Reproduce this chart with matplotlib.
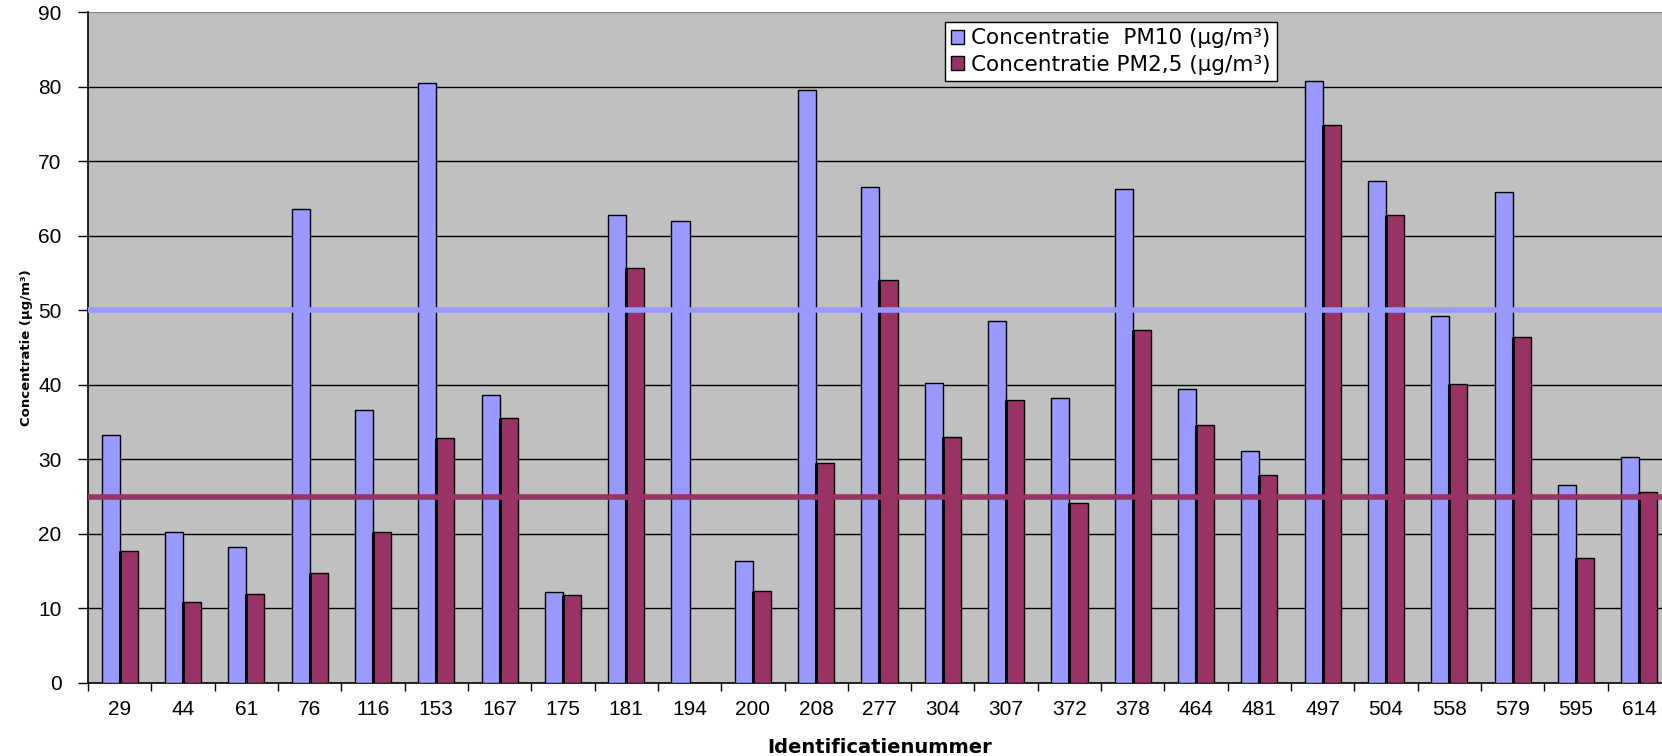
import numpy as np
import matplotlib
matplotlib.use("Agg")
import matplotlib.pyplot as plt
from matplotlib.patches import Patch

plt.rcParams['font.family'] = ['Liberation Sans', 'DejaVu Sans']

# Data
ids = ["29", "44", "61", "76", "116", "153", "167", "175", "181", "194",
       "200", "208", "277", "304", "307", "372", "378", "464", "481", "497",
       "504", "558", "579", "595", "614"]
pm10 = [33.2, 20.3, 18.3, 63.6, 36.6, 80.5, 38.6, 12.2, 62.8, 62.0,
        16.3, 79.5, 66.5, 40.3, 48.5, 38.2, 66.3, 39.5, 31.1, 80.7,
        67.3, 49.2, 65.9, 26.6, 30.3]
pm25 = [17.7, 10.8, 12.0, 14.7, 20.2, 32.8, 35.6, 11.8, 55.7, 0.0,
        12.4, 29.5, 54.1, 33.0, 38.0, 24.1, 47.4, 34.6, 27.9, 74.8,
        62.8, 40.1, 46.4, 16.7, 25.6]
limit_pm10 = 50
limit_pm25 = 25

c_pm10 = "#9999FF"
c_pm25 = "#993366"
c_bg = "#C0C0C0"

W, H = 1662, 756
fig = plt.figure(figsize=(W / 100, H / 100), dpi=100)
fig.patch.set_facecolor("white")

# plot area runs past the right edge of the picture, as in the reference
left, right, top, bottom = 88, 1671, 12, 683
ax = fig.add_axes([left / W, (H - bottom) / H, (right - left) / W, (bottom - top) / H])
ax.set_facecolor(c_bg)

x = np.arange(len(ids))
bw = 0.285
ax.bar(x - bw / 2, pm10, bw, color=c_pm10, edgecolor="black", linewidth=1.0, zorder=3)
ax.bar(x + bw / 2, pm25, bw, color=c_pm25, edgecolor="black", linewidth=1.0, zorder=3)
# darker shadow edge between the two bars of a pair
for xi, v in zip(x, pm25):
    if v > 0:
        ax.plot([xi, xi], [0, v], color="black", linewidth=2.2, zorder=3.5,
                solid_capstyle="butt")

ax.axhline(limit_pm10, color=c_pm10, linewidth=4.0, zorder=4)
ax.axhline(limit_pm25, color=c_pm25, linewidth=4.0, zorder=4)

ax.set_xlim(-0.5, len(ids) - 0.5)
ax.set_ylim(0, 90)
ax.set_yticks(range(0, 91, 10))
for yv in range(10, 81, 10):
    ax.axhline(yv, color="black", linewidth=1.0, zorder=1)
ax.axhline(90, color="#808080", linewidth=1.5, zorder=1)

# tick marks at category boundaries, labels in the middle
ax.set_xticks(np.arange(-0.5, len(ids), 1.0))
ax.set_xticklabels([])
ax.set_xticks(x, minor=True)
ax.set_xticklabels(ids, minor=True)
ax.tick_params(axis="x", which="minor", length=0, pad=12, labelsize=15)
ax.tick_params(axis="x", which="major", length=6, width=1, direction="out")
ax.tick_params(axis="y", length=7, width=1, direction="out", labelsize=15, pad=12)

for s in ["top", "right"]:
    ax.spines[s].set_visible(False)
ax.spines["left"].set_linewidth(1.2)
ax.spines["bottom"].set_linewidth(1.2)

ax.set_xlabel("Identificatienummer", fontsize=14, fontweight="bold",
              family="DejaVu Sans", labelpad=14)
ax.set_ylabel("Concentratie (µg/m³)", fontsize=9.5, fontweight="bold",
              family="DejaVu Sans", labelpad=4)

handles = [Patch(facecolor=c_pm10, edgecolor="black", label="Concentratie  PM10 (µg/m³)"),
           Patch(facecolor=c_pm25, edgecolor="black", label="Concentratie PM2,5 (µg/m³)")]
leg = fig.legend(handles=handles, loc="upper left",
                 bbox_to_anchor=(945 / W, 1 - 22 / H),
                 prop={"family": "DejaVu Sans", "size": 15.5},
                 frameon=True, fancybox=False, framealpha=1, edgecolor="black",
                 handlelength=0.6, handleheight=0.6, handletextpad=0.3,
                 borderpad=0.3, labelspacing=0.3, borderaxespad=0)
leg.get_frame().set_linewidth(1.0)

fig.savefig("out.png", dpi=100)
